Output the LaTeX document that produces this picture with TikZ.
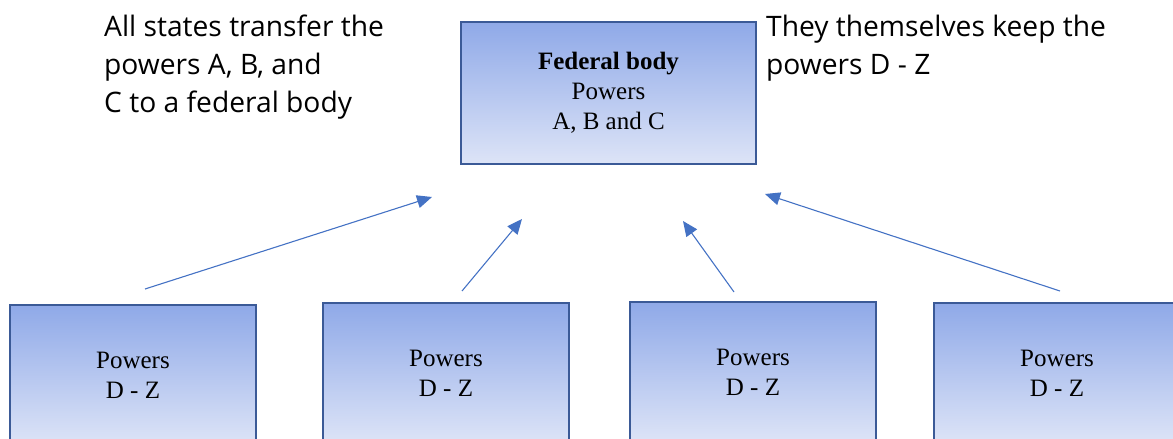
\documentclass[tikz,border=0pt]{standalone}
\usepackage{fontspec}
\setmainfont{Liberation Serif}
\newfontfamily\labelfont{Open Sans}
\usetikzlibrary{arrows.meta}
\definecolor{boxtop}{HTML}{8FA9E8}
\definecolor{boxbot}{HTML}{DDE4F7}
\definecolor{boxline}{HTML}{3B5A97}
\definecolor{arrowblue}{HTML}{4472C4}
\tikzset{
  powerbox/.style={draw=boxline, line width=1.8pt, top color=boxtop, bottom color=boxbot,
    align=center, font=\fontsize{25}{30}\selectfont, inner sep=0pt},
  sidetext/.style={anchor=north west, align=left, inner sep=0pt, text=black,
    font=\labelfont\fontsize{28.2}{38}\selectfont},
  flow/.style={draw=arrowblue, line width=1.1pt, -{Triangle[length=15pt,width=13pt]}}
}
\begin{document}
\begin{tikzpicture}[x=1pt,y=-1pt]
\useasboundingbox (0,0) rectangle (1173,439);
\clip (0,0) rectangle (1173,439);
\node[powerbox, minimum width=295pt, minimum height=142pt] (fed) at (608.5,93)
  {\textbf{Federal body}\\Powers\\A, B and C};
\node[powerbox, minimum width=246pt, minimum height=140pt] (s1) at (133,375) {Powers\\D - Z};
\node[powerbox, minimum width=246pt, minimum height=140pt] (s2) at (446,373) {Powers\\D - Z};
\node[powerbox, minimum width=246pt, minimum height=140pt] (s3) at (753,372) {Powers\\D - Z};
\node[powerbox, minimum width=246pt, minimum height=140pt] (s4) at (1057,373) {Powers\\D - Z};
\node[sidetext] (left) at (104,15) {All states transfer the\\powers A, B, and\\C to a federal body};
\node[sidetext] (right) at (766,15) {They themselves keep the\\powers D - Z};
\coordinate (a1s) at (145,289); \coordinate (a1e) at (432,197);
\coordinate (a2s) at (462,291); \coordinate (a2e) at (522,219);
\coordinate (a3s) at (734,292); \coordinate (a3e) at (683,221);
\coordinate (a4s) at (1060,291); \coordinate (a4e) at (765,194);
\draw[flow] (a1s) -- (a1e);
\draw[flow] (a2s) -- (a2e);
\draw[flow] (a3s) -- (a3e);
\draw[flow] (a4s) -- (a4e);
\end{tikzpicture}
\end{document}
